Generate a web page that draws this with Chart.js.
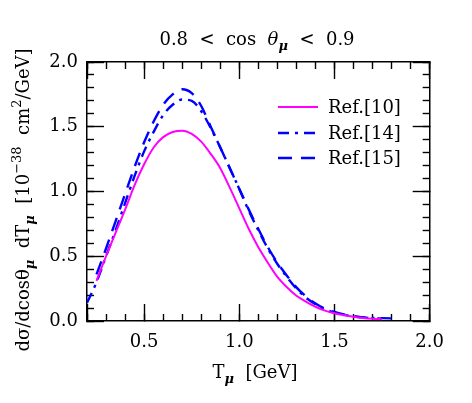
<!DOCTYPE html>
<html>
<head>
<meta charset="utf-8">
<script src="https://cdn.jsdelivr.net/npm/chart.js@4/dist/chart.umd.min.js"></script>
<style>
html,body{margin:0;padding:0;background:#fff;}
#wrap{width:472px;height:403px;position:relative;}
</style>
</head>
<body>
<div id="wrap"><canvas id="c" width="472" height="403"></canvas></div>
<script>
// ---- data ----
const T10 = [0.25,0.30,0.35,0.40,0.45,0.50,0.55,0.60,0.65,0.70,0.75,0.80,0.85,0.90,0.95,1.00,1.05,1.10,1.15,1.20,1.25,1.30,1.35,1.40,1.45,1.50,1.55,1.60,1.65,1.70,1.75];
const V10 = [0.31,0.50,0.68,0.86,1.05,1.21,1.34,1.42,1.46,1.47,1.445,1.385,1.29,1.18,1.03,0.87,0.71,0.57,0.45,0.34,0.26,0.195,0.15,0.11,0.08,0.06,0.045,0.033,0.024,0.018,0.014];

const T14 = [0.20,0.25,0.30,0.35,0.40,0.45,0.50,0.55,0.60,0.65,0.70,0.75,0.80,0.85,0.90,0.95,1.00,1.05,1.10,1.15,1.20,1.25,1.30,1.35,1.40,1.45,1.50,1.55,1.60,1.65,1.70,1.75,1.80];
const V14 = [0.14,0.30,0.50,0.70,0.91,1.12,1.31,1.46,1.59,1.67,1.71,1.70,1.62,1.49,1.34,1.18,1.02,0.85,0.70,0.56,0.44,0.34,0.25,0.18,0.13,0.09,0.065,0.048,0.036,0.028,0.024,0.022,0.02];

const T15 = [0.25,0.30,0.35,0.40,0.45,0.50,0.55,0.60,0.65,0.70,0.75,0.80,0.85,0.90,0.95,1.00,1.05,1.10,1.15,1.20,1.25,1.30,1.35,1.40,1.45,1.50,1.55,1.60,1.65,1.70,1.75];
const V15 = [0.36,0.56,0.77,0.98,1.19,1.38,1.54,1.67,1.75,1.79,1.76,1.66,1.50,1.34,1.18,1.02,0.86,0.71,0.57,0.45,0.35,0.26,0.19,0.135,0.095,0.07,0.05,0.037,0.028,0.022,0.018];

const seriesNames = ["Ref.[10]","Ref.[14]","Ref.[15]"];
const xMajorLabels = [0.5,1.0,1.5,2.0];
const yMajorLabels = [0.0,0.5,1.0,1.5,2.0];

const FONT = '"DejaVu Serif", "Liberation Serif", serif';
const BASE = 18;

function zip(xs, ys){ return xs.map((x,i)=>({x:x, y:ys[i]})); }
function isMajor(v, list){ return list.some(m => Math.abs(m - v) < 1e-6); }

function segFont(s, size){
  const sz = (s.sub || s.sup) ? Math.round(size*0.7) : size;
  return (s.italic ? 'italic ' : '') + (s.bold ? 'bold ' : '') + sz + 'px ' + FONT;
}
function richWidth(ctx, segs, size){
  let w = 0;
  for (const s of segs){ ctx.font = segFont(s,size); w += ctx.measureText(s.t).width; }
  return w;
}
function drawRich(ctx, segs, x, y, size, align){
  const w = richWidth(ctx, segs, size);
  let cx = align === 'center' ? x - w/2 : (align === 'right' ? x - w : x);
  ctx.textBaseline = 'alphabetic';
  ctx.textAlign = 'left';
  for (const s of segs){
    ctx.font = segFont(s,size);
    const dy = s.sub ? size*0.3 : (s.sup ? -size*0.45 : 0);
    ctx.fillText(s.t, cx, y + dy);
    cx += ctx.measureText(s.t).width;
  }
}

const textPlugin = {
  id: 'texts',
  afterDraw(chart){
    const ctx = chart.ctx;
    ctx.save();
    const ds = chart.data.datasets;
    const lx0 = 278, lx1 = 318, ly = [107, 133, 158];
    for (let i = 0; i < ds.length; i++){
      ctx.strokeStyle = ds[i].borderColor;
      ctx.lineWidth = ds[i].borderWidth;
      ctx.setLineDash(ds[i].borderDash || []);
      ctx.beginPath(); ctx.moveTo(lx0, ly[i]); ctx.lineTo(lx1, ly[i]); ctx.stroke();
      ctx.setLineDash([]);
      ctx.fillStyle = '#000';
      ctx.font = BASE + 'px ' + FONT;
      ctx.textAlign = 'left'; ctx.textBaseline = 'middle';
      ctx.fillText(seriesNames[i], 328, ly[i] + 1);
    }
    ctx.fillStyle = '#000';
    drawRich(ctx, [
      {t:'0.8  <  cos  '}, {t:'\u03B8', italic:true}, {t:'\u03BC', sub:true, italic:true, bold:true}, {t:'  <  0.9'}
    ], 257, 45, BASE, 'center');
    drawRich(ctx, [
      {t:'T'}, {t:'\u03BC', sub:true, italic:true, bold:true}, {t:'  [GeV]'}
    ], 255, 378, BASE, 'center');
    ctx.translate(29, 200);
    ctx.rotate(-Math.PI/2);
    drawRich(ctx, [
      {t:'d\u03C3/dcos\u03B8'}, {t:'\u03BC', sub:true, italic:true, bold:true},
      {t:'  dT'}, {t:'\u03BC', sub:true, italic:true, bold:true},
      {t:'  [10'}, {t:'\u221238', sup:true}, {t:'  cm'}, {t:'2', sup:true}, {t:'/GeV]'}
    ], 0, 0, BASE, 'center');
    ctx.restore();
  }
};

// axis factory: inward ticks via negative tickLength
function axis(opts){
  const horizontal = opts.position === 'top' || opts.position === 'bottom';
  const range = horizontal ? {min: 0.2, max: 2.0} : {min: 0, max: 2.0};
  return {
    type: 'linear', position: opts.position, weight: opts.weight, ...range,
    axis: horizontal ? 'x' : 'y',
    border: {display: !!opts.border, color: '#000', width: 1.5},
    grid: {drawOnChartArea: false, drawTicks: true, tickLength: -opts.len, tickColor: '#000', tickWidth: 1.4},
    ticks: {
      stepSize: opts.step, autoSkip: false, maxRotation: 0, display: !!opts.labels,
      padding: opts.pad || 0, color: '#000', font: {family: FONT, size: BASE},
      callback: (v) => isMajor(v, opts.labels || []) ? v.toFixed(1) : ''
    },
    afterFit: (s) => { if (horizontal) s.height = opts.size; else s.width = opts.size; }
  };
}

const chart = new Chart(document.getElementById('c'), {
  type: 'line',
  data: {
    datasets: [
      {label: seriesNames[0], data: zip(T10, V10), borderColor: '#ff00ff', borderWidth: 2, pointRadius: 0, fill: false, cubicInterpolationMode: 'monotone', xAxisID: 'x', yAxisID: 'y'},
      {label: seriesNames[1], data: zip(T14, V14), borderColor: '#0000ff', borderWidth: 2.4, borderDash: [11,6,3,6], pointRadius: 0, fill: false, cubicInterpolationMode: 'monotone', xAxisID: 'x', yAxisID: 'y'},
      {label: seriesNames[2], data: zip(T15, V15), borderColor: '#0000ff', borderWidth: 2.4, borderDash: [14,9], pointRadius: 0, fill: false, cubicInterpolationMode: 'monotone', xAxisID: 'x', yAxisID: 'y'}
    ]
  },
  options: {
    responsive: false,
    devicePixelRatio: 1,
    animation: false,
    events: [],
    layout: {padding: {left: 0, right: 39, top: 62, bottom: 0}},
    plugins: {legend: {display: false}, tooltip: {enabled: false}, title: {display: false}},
    scales: {
      x:   axis({position: 'bottom', weight: 1, step: 0.5, len: 17, labels: xMajorLabels, pad: 28, size: 82, border: true}),
      xm:  axis({position: 'bottom', weight: 0, step: 0.1, len: 7, size: 0}),
      xt:  axis({position: 'top', weight: 1, step: 0.5, len: 17, size: 0, border: true}),
      xtm: axis({position: 'top', weight: 0, step: 0.1, len: 7, size: 0}),
      y:   axis({position: 'left', weight: 1, step: 0.5, len: 17, labels: yMajorLabels, pad: 26, size: 87, border: true}),
      ym:  axis({position: 'left', weight: 0, step: 0.1, len: 7, size: 0}),
      yr:  axis({position: 'right', weight: 1, step: 0.5, len: 17, size: 0, border: true}),
      yrm: axis({position: 'right', weight: 0, step: 0.1, len: 7, size: 0})
    }
  },
  plugins: [textPlugin]
});
</script>
</body>
</html>
